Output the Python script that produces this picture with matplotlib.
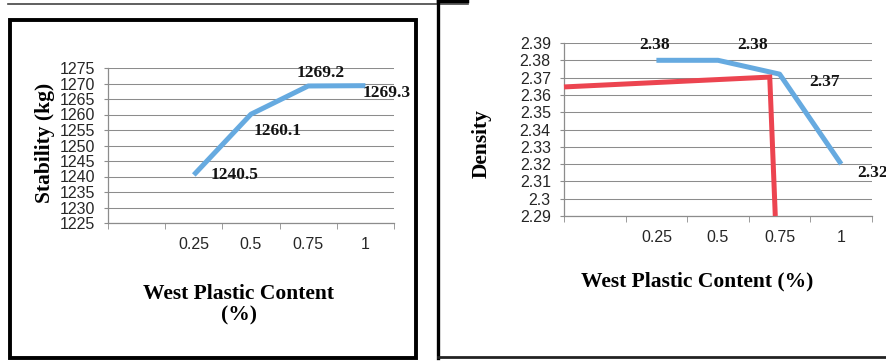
import matplotlib
matplotlib.use("Agg")
import matplotlib.pyplot as plt
from matplotlib.lines import Line2D
from matplotlib.patches import Rectangle

# category axis: first slot is empty, then the plastic contents
categories = ["", "0.25", "0.5", "0.75", "1"]
content_pos = [1, 2, 3, 4]

stability = [1240.5, 1260.1, 1269.2, 1269.3]
density = [2.38, 2.38, 2.372, 2.32]

# optimum construction line on the density chart (category units, density)
opt_x = [-0.5, 2.84, 2.93]
opt_y = [2.3646, 2.3703, 2.29]

stab_ticks = list(range(1225, 1276, 5))
dens_ticks = [2.29, 2.30, 2.31, 2.32, 2.33, 2.34, 2.35, 2.36, 2.37, 2.38, 2.39]
dens_ticklabels = ["2.29", "2.3", "2.31", "2.32", "2.33", "2.34", "2.35",
                   "2.36", "2.37", "2.38", "2.39"]

# label offsets in points, (dx, dy, ha)
stab_offsets = [(12, 0, "left"), (1.5, -12, "left"), (9, 9.5, "center"), (-2, -5, "left")]
dens_offsets = [(-1.5, 11, "center"), (25, 11, "center"), (32, -6, "center"), (11.5, -6.5, "left")]

W, H = 887, 361
BLUE = "#66AAE0"
RED = "#EC4450"
GRID = "#8C8C8C"
TICK_FONT = "Liberation Sans"
SERIF = "Liberation Serif"


def px_rect(x0, y_top, x1, y_bot):
    return [x0 / W, 1 - y_bot / H, (x1 - x0) / W, (y_bot - y_top) / H]


def style_axes(ax, ticks, ticklabels):
    ax.set_xlim(-0.5, len(categories) - 0.5)
    ax.set_ylim(ticks[0], ticks[-1])
    ax.set_yticks(ticks)
    ax.set_yticklabels(ticklabels)
    ax.set_xticks(content_pos)
    ax.set_xticklabels(categories[1:])
    ax.set_xticks([i - 0.5 for i in range(len(categories) + 1)], minor=True)
    ax.grid(axis="y", color=GRID, lw=0.75)
    ax.set_axisbelow(True)
    for s in ("top", "right"):
        ax.spines[s].set_visible(False)
    for s in ("left", "bottom"):
        ax.spines[s].set_color(GRID)
        ax.spines[s].set_linewidth(0.9)
    ax.tick_params(axis="x", which="major", length=0, pad=10)
    ax.tick_params(axis="x", which="minor", length=4, color=GRID, direction="out")
    ax.tick_params(axis="y", length=3, color=GRID, pad=6.5)
    for lab in ax.get_xticklabels() + ax.get_yticklabels():
        lab.set_fontfamily(TICK_FONT)
        lab.set_fontsize(11.5)
        lab.set_color("#262626")


def label_points(ax, xs, ys, offsets, fmt):
    for x, y, (dx, dy, ha) in zip(xs, ys, offsets):
        ax.annotate(fmt.format(y), (x, y), xytext=(dx, dy), textcoords="offset points",
                    ha=ha, va="center", fontsize=12.5, fontweight="bold",
                    family=SERIF, color="#141414", annotation_clip=False)


fig = plt.figure(figsize=(W / 100, H / 100), dpi=100)

# Stability chart
ax1 = fig.add_axes(px_rect(108, 68, 394, 223))
style_axes(ax1, stab_ticks, [str(t) for t in stab_ticks])
ax1.plot(content_pos, stability, color=BLUE, lw=3.6, solid_joinstyle="round",
         solid_capstyle="butt")
label_points(ax1, content_pos, stability, stab_offsets, "{:.1f}")
ax1.set_ylabel("Stability (kg)", family=SERIF, fontweight="bold", fontsize=15.5,
               va="center")
ax1.yaxis.set_label_coords(-0.22, 0.516)
ax1.set_xlabel("West Plastic Content\n(%)", family=SERIF, fontweight="bold",
               fontsize=15.5, va="center", linespacing=1.1)
ax1.xaxis.set_label_coords(0.458, -0.525)

# Density chart
ax2 = fig.add_axes(px_rect(564, 43, 872, 216))
style_axes(ax2, dens_ticks, dens_ticklabels)
ax2.plot(content_pos, density, color=BLUE, lw=3.6, solid_joinstyle="round",
         solid_capstyle="butt", zorder=3)
ax2.plot(opt_x, opt_y, color=RED, lw=3.6, solid_joinstyle="miter",
         solid_capstyle="butt", zorder=4, clip_on=False)
label_points(ax2, content_pos, density, dens_offsets, "{:.2f}")
ax2.set_ylabel("Density", family=SERIF, fontweight="bold", fontsize=15.5, va="center")
ax2.yaxis.set_label_coords(-0.266, 0.42)
ax2.set_xlabel("West Plastic Content (%)", family=SERIF, fontweight="bold",
               fontsize=15.5, va="center")
ax2.xaxis.set_label_coords(0.432, -0.38)


# page frame lines around the two charts
def hline(x0, x1, y, lw, color="black"):
    fig.add_artist(Line2D([x0 / W, x1 / W], [1 - y / H, 1 - y / H], lw=lw,
                          color=color, transform=fig.transFigure))


def vline(x, y0, y1, lw, color="black"):
    fig.add_artist(Line2D([x / W, x / W], [1 - y0 / H, 1 - y1 / H], lw=lw,
                          color=color, transform=fig.transFigure))


hline(8, 468, 3.5, 1.2, "#444444")
hline(438, 467, 1, 2.5)
fig.add_artist(Rectangle((10 / W, 1 - 358 / H), 406 / W, 338 / H, fill=False,
                         lw=2.8, edgecolor="black", transform=fig.transFigure))
vline(438.5, 0, 358, 2.4)
hline(438, 887, 357, 2.0, "#222222")

fig.savefig("out.png", dpi=100)
